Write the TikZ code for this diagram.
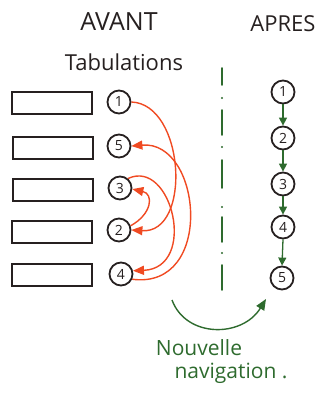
\documentclass[tikz,border=0pt]{standalone}
\usepackage{fontspec}
\setmainfont{Open Sans}
\usetikzlibrary{arrows.meta}
\definecolor{ink}{HTML}{262020}
\definecolor{tabred}{HTML}{F04A22}
\definecolor{navgreen}{HTML}{2E6B2E}
\begin{document}
\begin{tikzpicture}[x=1pt,y=-1pt,
  tab/.style={draw=ink, line width=1.8pt, minimum width=80pt, minimum height=22pt, inner sep=0pt},
  num/.style={draw=ink, circle, line width=1.8pt, minimum size=23pt, inner sep=0pt, font=\fontsize{14}{14}\selectfont, text=ink},
  redarr/.style={draw=tabred, line width=1.4pt, -{Triangle[length=11pt,width=9pt]}},
  greenarr/.style={draw=navgreen, line width=1.3pt, -{Triangle[length=8pt,width=8pt]}},
  title/.style={text=ink, font=\fontsize{25}{25}\selectfont},
  sep/.style={draw=navgreen, line width=1.8pt, line cap=round},
  sepdot/.style={fill=navgreen}
]
\useasboundingbox (0,0) rectangle (327,396);

% headings
\node[title] (avant) at (119,22) {AVANT};
\node[title, font=\fontsize{22}{22}\selectfont] (apres) at (283,24) {APRES};
\node[text=ink, font=\fontsize{22}{22}\selectfont] (tabs) at (124,62) {Tabulations};

% dividing line: dashes with dots between them
\foreach \a/\b in {68/85, 110/135, 160/188, 217/242, 265/290}
  \draw[sep] (222,\a) -- (222,\b);
\foreach \y in {98,147,207,253}
  \fill[sepdot] (222,\y) circle (1.2pt);

% fields in the form
\node[tab] (f1) at (52,103) {};
\node[tab] (f2) at (53,148) {};
\node[tab] (f3) at (53,190) {};
\node[tab] (f4) at (52,232) {};
\node[tab] (f5) at (52,275) {};

% old tab order
\node[num] (l1) at (119,102) {1};
\node[num] (l5) at (119,146) {5};
\node[num] (l3) at (120,188) {3};
\node[num] (l2) at (119,230) {2};
\node[num] (l4) at (121,274) {4};

\draw[redarr] (l1.east) .. controls (185,104) and (192,234) .. (l2.east);
\draw[redarr] (l2.20) .. controls (152,214) and (154,194) .. (l3.-5);
\draw[redarr] (l3.50) .. controls (172,158) and (198,268) .. (l4.15);
\draw[redarr] (l4.-25) .. controls (215,290) and (202,140) .. (l5.east);

% new tab order
\node[num] (r1) at (283,92) {1};
\node[num] (r2) at (283,138) {2};
\node[num] (r3) at (283,184) {3};
\node[num] (r4) at (283,227) {4};
\node[num] (r5) at (282,278) {5};

\draw[greenarr] (r1.south) -- (r2.north);
\draw[greenarr] (r2.south) -- (r3.north);
\draw[greenarr] (r3.south) -- (r4.north);
\draw[greenarr] (r4.south) -- (r5.north);

% caption arrow
\coordinate (cstart) at (172,300);
\coordinate (cend) at (266,299);
\draw[draw=navgreen, line width=1.4pt, -{Triangle[length=11pt,width=9pt]}]
  (cstart) .. controls (186,338) and (242,338) .. (cend);
\node[text=navgreen, font=\fontsize{21}{21}\selectfont] (nouv) at (199,348) {Nouvelle};
\node[text=navgreen, font=\fontsize{21}{21}\selectfont] (navi) at (231,373) {navigation .};
\end{tikzpicture}
\end{document}
